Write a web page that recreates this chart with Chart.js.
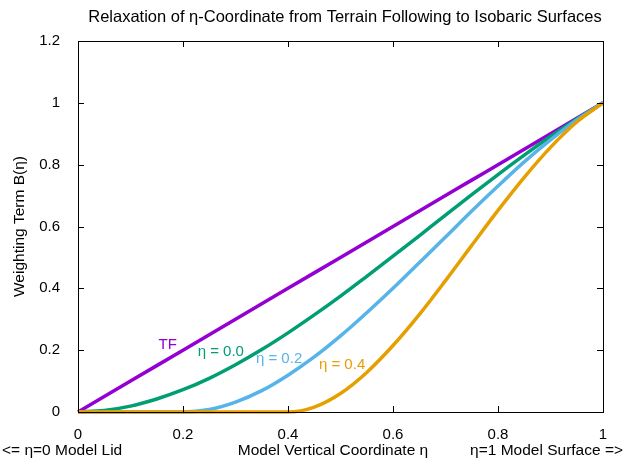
<!DOCTYPE html>
<html>
<head>
<meta charset="utf-8">
<script src="https://cdn.jsdelivr.net/npm/chart.js@4.4.1/dist/chart.umd.min.js"></script>
<style>
  html, body { margin: 0; padding: 0; background: #fff; }
  #wrap { width: 625px; height: 461px; position: relative; }
</style>
</head>
<body>
<div id="wrap"><canvas id="chart" width="625" height="461"></canvas></div>
<script>
// eta sample points (x axis)
const etaValues = [0, 0.05, 0.1, 0.15, 0.2, 0.25, 0.3, 0.35, 0.4, 0.45, 0.5,
  0.55, 0.6, 0.65, 0.7, 0.75, 0.8, 0.85, 0.9, 0.95, 1];

// weighting term B(eta)
const tfValues = [0, 0.05, 0.1, 0.15, 0.2, 0.25, 0.3, 0.35, 0.4, 0.45, 0.5,
  0.55, 0.6, 0.65, 0.7, 0.75, 0.8, 0.85, 0.9, 0.95, 1];
const eta00Values = [0, 0.005, 0.019, 0.042, 0.072, 0.109, 0.153, 0.202, 0.256, 0.314, 0.375,
  0.439, 0.504, 0.570, 0.637, 0.703, 0.768, 0.831, 0.891, 0.948, 1];
const eta02Values = [0, 0, 0, 0, 0, 0.008, 0.032, 0.069, 0.119, 0.178, 0.246,
  0.321, 0.400, 0.483, 0.566, 0.650, 0.731, 0.809, 0.880, 0.945, 1];
const eta04Values = [0, 0, 0, 0, 0, 0, 0, 0, 0, 0.016, 0.060,
  0.128, 0.215, 0.315, 0.425, 0.539, 0.652, 0.759, 0.856, 0.938, 1];

const xTicks = [0, 0.2, 0.4, 0.6, 0.8, 1];
const yTicks = [0, 0.2, 0.4, 0.6, 0.8, 1, 1.2];
const xTickLabels = ["0", "0.2", "0.4", "0.6", "0.8", "1"];
const yTickLabels = ["0", "0.2", "0.4", "0.6", "0.8", "1", "1.2"];

// in-plot curve labels [text, x, y]
const curveLabels = [
  ["TF", 0.171, 0.217],
  ["η = 0.0", 0.272, 0.194],
  ["η = 0.2", 0.383, 0.171],
  ["η = 0.4", 0.503, 0.152],
];

const titleText = "Relaxation of η-Coordinate from Terrain Following to Isobaric Surfaces";
const yTitle = "Weighting Term B(η)";
const xTitleLeft = "<= η=0 Model Lid";
const xTitleMid = "Model Vertical Coordinate η";
const xTitleRight = "η=1 Model Surface =>";

const colors = ["#9400d3", "#009e73", "#56b4e9", "#e69f00"];
const FONT = "'Liberation Sans', Arial, Helvetica, sans-serif";

function toPoints(ys) {
  return etaValues.map((x, i) => ({ x, y: ys[i] }));
}

const decorPlugin = {
  id: "decor",
  afterDraw(chart) {
    const { ctx, chartArea: a, scales } = chart;
    const xs = scales.x;
    const ys = scales.y;
    ctx.save();

    // frame
    ctx.strokeStyle = "#000";
    ctx.lineWidth = 1;
    ctx.strokeRect(a.left + 0.5, a.top + 0.5, a.right - a.left, a.bottom - a.top);

    // inward ticks (with mirror)
    const tl = 6;
    ctx.beginPath();
    xTicks.forEach((v) => {
      const px = Math.round(xs.getPixelForValue(v)) + 0.5;
      ctx.moveTo(px, a.bottom);
      ctx.lineTo(px, a.bottom - tl);
      ctx.moveTo(px, a.top);
      ctx.lineTo(px, a.top + tl);
    });
    yTicks.forEach((v) => {
      const py = Math.round(ys.getPixelForValue(v)) + 0.5;
      ctx.moveTo(a.left, py);
      ctx.lineTo(a.left + tl, py);
      ctx.moveTo(a.right, py);
      ctx.lineTo(a.right - tl, py);
    });
    ctx.stroke();

    // title
    ctx.fillStyle = "#000";
    ctx.font = "16.5px " + FONT;
    ctx.textAlign = "center";
    ctx.textBaseline = "middle";
    ctx.fillText(titleText, 345, 17);

    // x axis labels
    ctx.font = "15.5px " + FONT;
    ctx.fillText(xTitleMid, 333, 451);
    ctx.textAlign = "left";
    ctx.fillText(xTitleLeft, 2, 451);
    ctx.textAlign = "right";
    ctx.fillText(xTitleRight, 623, 451);

    // y axis title
    ctx.save();
    ctx.translate(20, (a.top + a.bottom) / 2);
    ctx.rotate(-Math.PI / 2);
    ctx.textAlign = "center";
    ctx.fillText(yTitle, 0, 0);
    ctx.restore();

    // curve labels
    ctx.font = "15px " + FONT;
    ctx.textAlign = "center";
    curveLabels.forEach((lab, i) => {
      ctx.fillStyle = colors[i];
      ctx.fillText(lab[0], xs.getPixelForValue(lab[1]), ys.getPixelForValue(lab[2]));
    });

    ctx.restore();
  },
};

const datasets = [tfValues, eta00Values, eta02Values, eta04Values].map((vals, i) => ({
  label: ["TF", "η = 0.0", "η = 0.2", "η = 0.4"][i],
  data: toPoints(vals),
  borderColor: colors[i],
  backgroundColor: colors[i],
  borderWidth: 3.5,
  pointRadius: 0,
  fill: false,
  cubicInterpolationMode: "monotone",
  clip: 4,
  order: 4 - i,
}));

new Chart(document.getElementById("chart"), {
  type: "line",
  data: { datasets },
  options: {
    responsive: false,
    animation: false,
    layout: { padding: { top: 41, right: 22, left: 0, bottom: 0 } },
    plugins: {
      legend: { display: false },
      tooltip: { enabled: false },
      title: { display: false },
    },
    scales: {
      x: {
        type: "linear",
        min: 0,
        max: 1,
        afterBuildTicks: (s) => { s.ticks = xTicks.map((v) => ({ value: v })); },
        afterFit: (s) => { s.height = 49; },
        grid: { display: false },
        border: { display: false },
        ticks: {
          color: "#000",
          padding: 6,
          maxRotation: 0,
          font: { family: FONT, size: 15 },
          callback: (v) => xTickLabels[xTicks.indexOf(v)] ?? "",
        },
      },
      y: {
        type: "linear",
        min: 0,
        max: 1.2,
        afterBuildTicks: (s) => { s.ticks = yTicks.map((v) => ({ value: v })); },
        afterFit: (s) => { s.width = 78; },
        grid: { display: false },
        border: { display: false },
        ticks: {
          color: "#000",
          padding: 10,
          font: { family: FONT, size: 15 },
          callback: (v) => yTickLabels[yTicks.indexOf(v)] ?? "",
        },
      },
    },
  },
  plugins: [decorPlugin],
});
</script>
</body>
</html>
